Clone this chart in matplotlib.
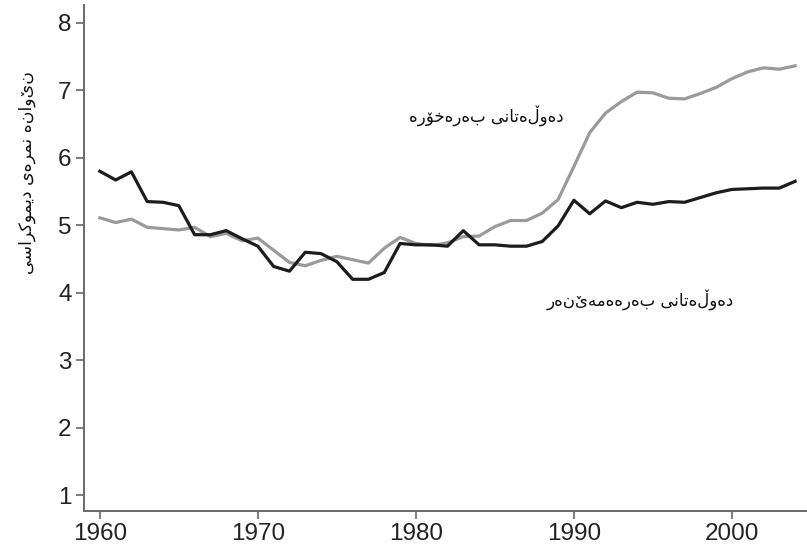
import matplotlib
matplotlib.use('Agg')
import matplotlib.pyplot as plt

# average democracy score by year
years = list(range(1960, 2005))
producers = [5.80, 5.67, 5.79, 5.35, 5.34, 5.29, 4.86, 4.86, 4.92, 4.80,
             4.69, 4.39, 4.32, 4.60, 4.58, 4.46, 4.20, 4.20, 4.30, 4.73,
             4.71, 4.71, 4.69, 4.92, 4.71, 4.71, 4.69, 4.69, 4.76, 4.99,
             5.37, 5.17, 5.36, 5.26, 5.34, 5.31, 5.35, 5.34, 5.41, 5.48,
             5.53, 5.54, 5.55, 5.55, 5.65]
consumers = [5.11, 5.04, 5.09, 4.97, 4.95, 4.93, 4.97, 4.83, 4.88, 4.77,
             4.81, 4.63, 4.45, 4.40, 4.48, 4.54, 4.49, 4.44, 4.66, 4.82,
             4.73, 4.70, 4.74, 4.83, 4.84, 4.98, 5.07, 5.07, 5.18, 5.38,
             5.87, 6.37, 6.66, 6.83, 6.97, 6.96, 6.88, 6.87, 6.95, 7.04,
             7.17, 7.27, 7.33, 7.31, 7.36]
xticks = [1960, 1970, 1980, 1990, 2000]
yticks = [1, 2, 3, 4, 5, 6, 7, 8]

ylabel = 'نێوانە نمرەی دیموکراسی'
label_consumers = 'دەوڵەتانی بەرەخۆرە'
label_producers = 'دەوڵەتانی بەرهەمهێنەر'

# matplotlib does no arabic shaping: use presentation forms where they exist
# (isolated, final, initial, medial) and lay the string out right to left
FORMS = {
    'ا': ('\uFE8D', '\uFE8E', None, None),
    'ب': ('\uFE8F', '\uFE90', '\uFE91', '\uFE92'),
    'ت': ('\uFE95', '\uFE96', '\uFE97', '\uFE98'),
    'خ': ('\uFEA5', '\uFEA6', '\uFEA7', '\uFEA8'),
    'د': ('\uFEA9', '\uFEAA', None, None),
    'ر': ('\uFEAD', '\uFEAE', None, None),
    'س': ('\uFEB1', '\uFEB2', '\uFEB3', '\uFEB4'),
    'م': ('\uFEE1', '\uFEE2', '\uFEE3', '\uFEE4'),
    'ن': ('\uFEE5', '\uFEE6', '\uFEE7', '\uFEE8'),
    'ه': ('\uFEE9', '\uFEEA', '\uFEEB', '\uFEEC'),
    'و': ('\uFEED', '\uFEEE', None, None),
    'ی': ('\uFBFC', '\uFBFD', '\uFBFE', '\uFBFF'),
    'ک': ('\uFB8E', '\uFB8F', '\uFB90', '\uFB91'),
    'ۆ': ('\uFBD9', '\uFBDA', None, None),
}


def shape(s):
    out = []
    for i, c in enumerate(s):
        f = FORMS.get(c)
        if f is None:
            out.append(c)
            continue
        pf = FORMS.get(s[i - 1]) if i > 0 else None
        nf = FORMS.get(s[i + 1]) if i + 1 < len(s) else None
        join_prev = pf is not None and pf[2] is not None
        join_next = f[2] is not None and nf is not None
        if join_prev and join_next:
            out.append(f[3])
        elif join_prev:
            out.append(f[1])
        elif join_next:
            out.append(f[2])
        else:
            out.append(f[0])
    return ''.join(out)[::-1]


plt.rcParams['font.family'] = ['Liberation Sans', 'DejaVu Sans']

fig = plt.figure(figsize=(8.07, 5.51), dpi=100)
ax = fig.add_axes([0.1041, 0.0726, 0.8959, 0.9183])

ax.plot(years, consumers, color='#9a9a9a', lw=2.3, solid_joinstyle='round')
ax.plot(years, producers, color='#1c1c1c', lw=2.3, solid_joinstyle='round')

ax.set_xlim(1959.0, 2004.75)
ax.set_ylim(0.77, 8.26)
ax.set_xticks(xticks)
ax.set_yticks(yticks)
ax.tick_params(labelsize=17.5, length=6, width=1.2, color='#666666',
               labelcolor='#222222', pad=3)
ax.tick_params(axis='x', pad=3)
for side in ['top', 'right']:
    ax.spines[side].set_visible(False)
for side in ['left', 'bottom']:
    ax.spines[side].set_color('#6a6a6a')
    ax.spines[side].set_linewidth(1.4)

arabic = ['DejaVu Sans']
fig.text(27 / 807, 1 - 173 / 551, shape(ylabel), rotation=90, ha='center',
         va='center', fontsize=12.5, family=arabic, color='#111111')
ax.text(1984.43, 6.62, shape(label_consumers), ha='center', va='center',
        fontsize=12, family=arabic, color='#111111')
ax.text(1994.2, 3.90, shape(label_producers), ha='center', va='center',
        fontsize=12, family=arabic, color='#111111')

fig.savefig('out.png', dpi=100)
